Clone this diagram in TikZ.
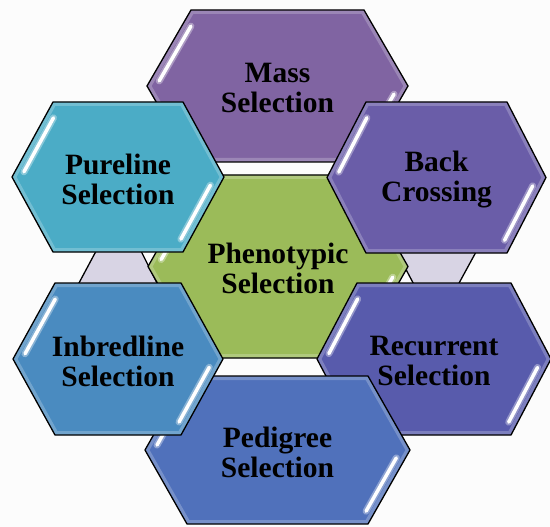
\documentclass[tikz,border=0pt]{standalone}
\usepackage{fontspec}
\setmainfont{Liberation Serif}
\usetikzlibrary{calc}
\definecolor{cMass}{RGB}{128,100,162}
\definecolor{cBack}{RGB}{106,93,168}
\definecolor{cRec}{RGB}{88,91,172}
\definecolor{cPed}{RGB}{80,113,187}
\definecolor{cInb}{RGB}{74,139,192}
\definecolor{cPure}{RGB}{75,172,198}
\definecolor{cPhen}{RGB}{155,187,89}
\definecolor{cGray}{RGB}{216,212,228}
\definecolor{cBg}{RGB}{252,252,252}
\tikzset{
  hexborder/.style={draw=black, line width=1.3pt, line join=miter},
  hextext/.style={font=\fontsize{29.5}{30}\selectfont\bfseries, align=center, text=black, inner sep=0pt},
  shine/.style={white, line width=3.5pt, line cap=round},
  shinesoft/.style={white, opacity=.35, line width=7pt, line cap=round},
  bevel/.style={white, opacity=.22, line width=8pt},
  grayconn/.style={fill=cGray, draw=black, line width=1.3pt, line join=miter},
}
\newcommand{\hexa}[8]{%
  \coordinate (#1L) at ({#2-#4},{#3});
  \coordinate (#1TL) at ({#2-#4+#6},{#3-#5});
  \coordinate (#1TR) at ({#2+#4-#6},{#3-#5});
  \coordinate (#1R) at ({#2+#4},{#3});
  \coordinate (#1BR) at ({#2+#4-#6},{#3+#5});
  \coordinate (#1BL) at ({#2-#4+#6},{#3+#5});
  \fill[#7] (#1L)--(#1TL)--(#1TR)--(#1R)--(#1BR)--(#1BL)--cycle;
  \begin{scope}
    \clip (#1L)--(#1TL)--(#1TR)--(#1R)--(#1BR)--(#1BL)--cycle;
    \draw[bevel] (#1L)--(#1TL)--(#1TR)--(#1R)--(#1BR)--(#1BL)--cycle;
  \end{scope}
  \draw[shinesoft] ($(#1L)!0.12!(#1TL)!8pt!-90:(#1TL)$) -- ($(#1L)!0.84!(#1TL)!8pt!-90:(#1TL)$);
  \draw[shine] ($(#1L)!0.12!(#1TL)!8pt!-90:(#1TL)$) -- ($(#1L)!0.84!(#1TL)!8pt!-90:(#1TL)$);
  \draw[shinesoft] ($(#1BR)!0.12!(#1R)!8pt!90:(#1R)$) -- ($(#1BR)!0.84!(#1R)!8pt!90:(#1R)$);
  \draw[shine] ($(#1BR)!0.12!(#1R)!8pt!90:(#1R)$) -- ($(#1BR)!0.84!(#1R)!8pt!90:(#1R)$);
  \draw[hexborder] (#1L)--(#1TL)--(#1TR)--(#1R)--(#1BR)--(#1BL)--cycle;
  \node[hextext] (#1) at (#2,{#3+2}) {#8};
}
\begin{document}
\begin{tikzpicture}[x=1pt,y=-1pt]
  \fill[cBg] (0,0) rectangle (550,527);
  \useasboundingbox (0,0) rectangle (550,527);
  % gray connectors
  \draw[grayconn] (102,240) -- (135.5,240) -- (163.5,296) -- (72,296) -- cycle;
  \draw[grayconn] (391,241) -- (482,241) -- (452,296) -- (420,296) -- cycle;
  % hexagons
  \hexa{phen}{278}{266.5}{130}{91.5}{52}{cPhen}{Phenotypic\\Selection}
  \hexa{mass}{277.5}{86}{130.5}{76}{44}{cMass}{Mass\\Selection}
  \hexa{back}{436.5}{177.5}{109.5}{75.5}{39}{cBack}{Back\\Crossing}
  \hexa{rec}{434}{359}{117}{76}{40}{cRec}{Recurrent\\Selection}
  \hexa{ped}{277.5}{450}{132.5}{74}{42}{cPed}{Pedigree\\Selection}
  \hexa{inb}{118}{359}{105}{76}{42}{cInb}{Inbredline\\Selection}
  \hexa{pure}{118}{177}{106}{75}{41}{cPure}{Pureline\\Selection}
\end{tikzpicture}
\end{document}
